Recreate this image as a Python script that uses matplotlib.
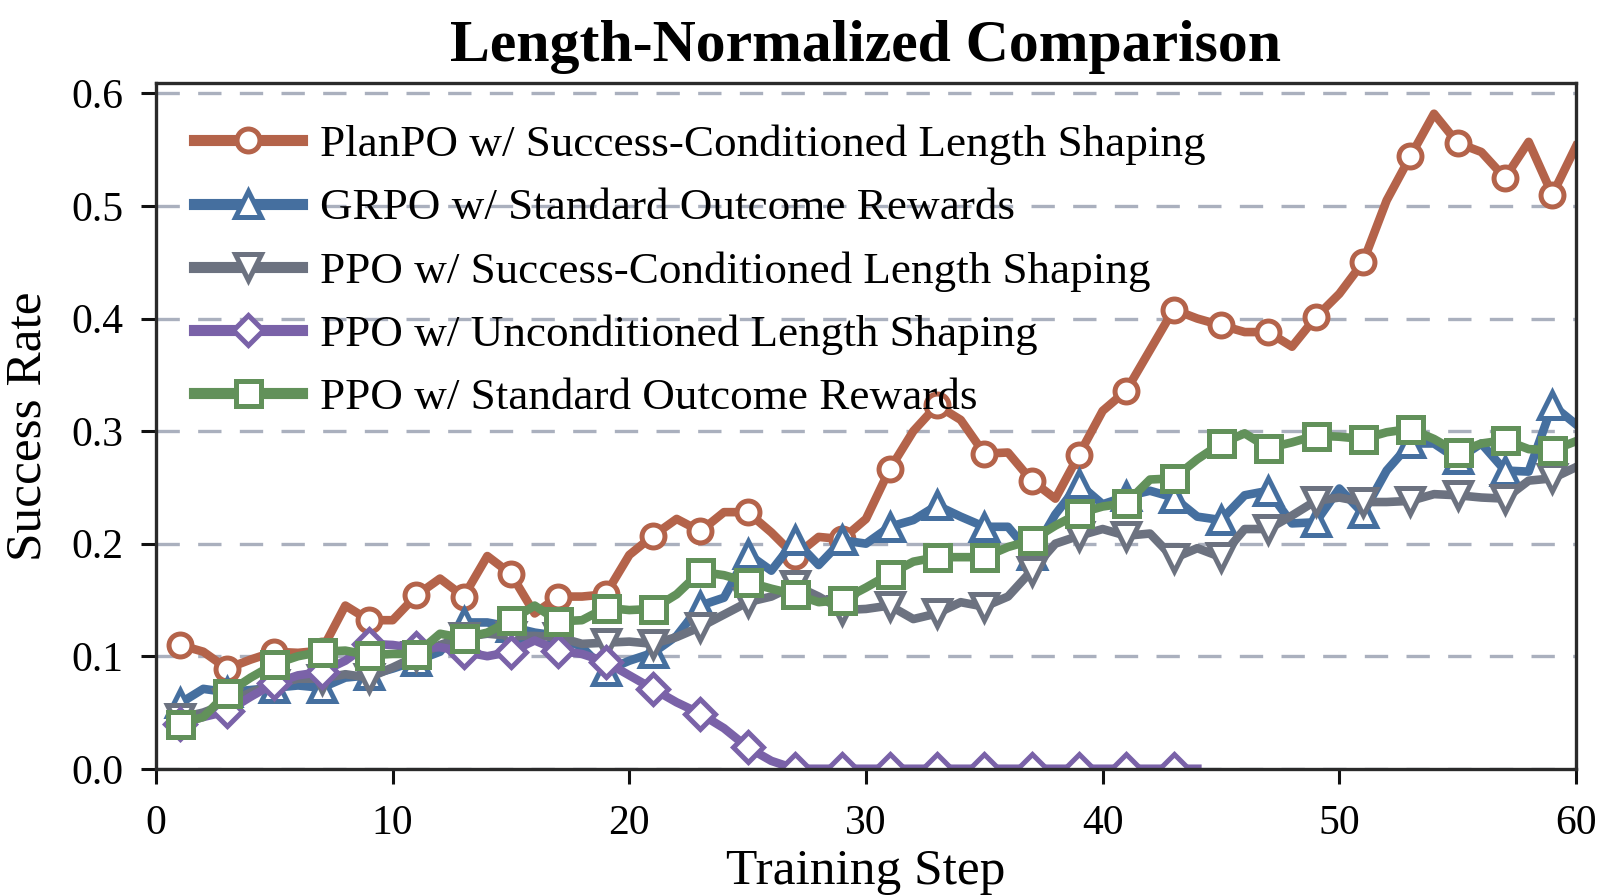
import numpy as np
import matplotlib
matplotlib.use('Agg')
import matplotlib.pyplot as plt

plt.rcParams['font.family'] = ['Liberation Serif', 'DejaVu Serif']

steps = np.arange(1, 61)

planpo = [0.110, 0.104, 0.089, 0.097, 0.104, 0.103, 0.105, 0.145, 0.132, 0.132,
          0.154, 0.169, 0.153, 0.189, 0.173, 0.138, 0.153, 0.153, 0.155, 0.190,
          0.207, 0.222, 0.211, 0.228, 0.228, 0.210, 0.189, 0.206, 0.204, 0.222,
          0.266, 0.300, 0.323, 0.310, 0.280, 0.281, 0.256, 0.240, 0.279, 0.318,
          0.336, 0.372, 0.408, 0.400, 0.394, 0.388, 0.388, 0.375, 0.401, 0.422,
          0.450, 0.505, 0.544, 0.582, 0.556, 0.548, 0.525, 0.557, 0.510, 0.553]

grpo = [0.058, 0.071, 0.068, 0.070, 0.072, 0.074, 0.072, 0.081, 0.083, 0.089,
        0.096, 0.104, 0.130, 0.130, 0.126, 0.121, 0.118, 0.108, 0.087, 0.096,
        0.103, 0.118, 0.145, 0.152, 0.191, 0.176, 0.203, 0.181, 0.203, 0.200,
        0.215, 0.221, 0.234, 0.224, 0.215, 0.215, 0.190, 0.226, 0.253, 0.235,
        0.242, 0.247, 0.241, 0.224, 0.221, 0.243, 0.247, 0.218, 0.219, 0.249,
        0.227, 0.265, 0.289, 0.289, 0.275, 0.289, 0.265, 0.264, 0.323, 0.306]

ppo_sc = [0.045, 0.050, 0.058, 0.068, 0.075, 0.080, 0.080, 0.084, 0.081, 0.090,
          0.100, 0.110, 0.117, 0.120, 0.118, 0.118, 0.117, 0.111, 0.112, 0.113,
          0.111, 0.117, 0.126, 0.137, 0.148, 0.153, 0.163, 0.153, 0.141, 0.142,
          0.145, 0.133, 0.138, 0.148, 0.144, 0.153, 0.176, 0.200, 0.207, 0.213,
          0.207, 0.209, 0.187, 0.196, 0.188, 0.213, 0.213, 0.225, 0.238, 0.241,
          0.237, 0.237, 0.238, 0.244, 0.243, 0.241, 0.240, 0.256, 0.258, 0.268]

# unconditioned run stops at step 44
ppo_unc = [0.040, 0.046, 0.051, 0.064, 0.076, 0.083, 0.086, 0.096, 0.111, 0.110,
           0.107, 0.108, 0.104, 0.100, 0.104, 0.114, 0.105, 0.102, 0.095, 0.083,
           0.071, 0.059, 0.049, 0.036, 0.019, 0.007, 0.0, 0.0, 0.0, 0.0,
           0.0, 0.0, 0.0, 0.0, 0.0, 0.0, 0.0, 0.0, 0.0, 0.0,
           0.0, 0.0, 0.0, 0.0]

ppo_std = [0.040, 0.046, 0.067, 0.081, 0.093, 0.100, 0.104, 0.105, 0.101, 0.102,
           0.102, 0.120, 0.116, 0.121, 0.132, 0.145, 0.131, 0.132, 0.143, 0.141,
           0.142, 0.155, 0.175, 0.172, 0.166, 0.160, 0.155, 0.148, 0.150, 0.161,
           0.173, 0.184, 0.188, 0.188, 0.188, 0.197, 0.203, 0.216, 0.227, 0.233,
           0.236, 0.257, 0.258, 0.275, 0.289, 0.298, 0.285, 0.290, 0.296, 0.295,
           0.293, 0.299, 0.302, 0.293, 0.281, 0.289, 0.292, 0.284, 0.283, 0.291]

series = [
    (planpo, 'PlanPO w/ Success-Conditioned Length Shaping', '#b4634a', 'o'),
    (grpo, 'GRPO w/ Standard Outcome Rewards', '#456f9f', '^'),
    (ppo_sc, 'PPO w/ Success-Conditioned Length Shaping', '#6c7280', 'v'),
    (ppo_unc, 'PPO w/ Unconditioned Length Shaping', '#7a62a8', 'D'),
    (ppo_std, 'PPO w/ Standard Outcome Rewards', '#62915a', 's'),
]

fig = plt.figure(figsize=(16, 8.96), dpi=100)
ax = fig.add_axes([0.0975, 0.142, 0.8875, 0.765])

for vals, label, color, m in series:
    ms = {'o': 16.5, '^': 19, 'v': 19, 'D': 15.5, 's': 18}[m]
    ax.plot(steps[:len(vals)], vals, color=color, lw=6.2, marker=m,
            markersize=ms, markerfacecolor='white', markeredgecolor=color,
            markeredgewidth=3.6, markevery=slice(0, None, 2), label=label)

ax.set_xlim(0, 60)
ax.set_ylim(0, 0.609)
ax.set_yticks([0.0, 0.1, 0.2, 0.3, 0.4, 0.5, 0.6])
ax.set_yticklabels(['0.0', '0.1', '0.2', '0.3', '0.4', '0.5', '0.6'])
ax.set_xticks([0, 10, 20, 30, 40, 50, 60])
ax.yaxis.grid(True, color='#aab0be', lw=2.4, linestyle=(0, (7, 5.5)))
ax.set_axisbelow(True)
for s in ax.spines.values():
    s.set_color('#2a2a2a')
    s.set_linewidth(2.4)
ax.tick_params(axis='both', labelsize=30, width=2.2, length=10.5, color='#111111')
ax.tick_params(axis='x', pad=15)
ax.tick_params(axis='y', pad=13)

ax.set_xlabel('Training Step', fontsize=37, labelpad=4.5)
ax.set_ylabel('Success Rate', fontsize=37, labelpad=14)
ax.set_title('Length-Normalized Comparison', fontsize=43, fontweight='bold', pad=16)

leg = ax.legend(loc='upper left', frameon=False, fontsize=32.5, handlelength=2.4,
                handletextpad=0.4, labelspacing=0.5, borderaxespad=0,
                bbox_to_anchor=(0.014, 0.966))
for h in leg.get_lines():
    h.set_linewidth(8)

fig.savefig('out.png', dpi=100)
